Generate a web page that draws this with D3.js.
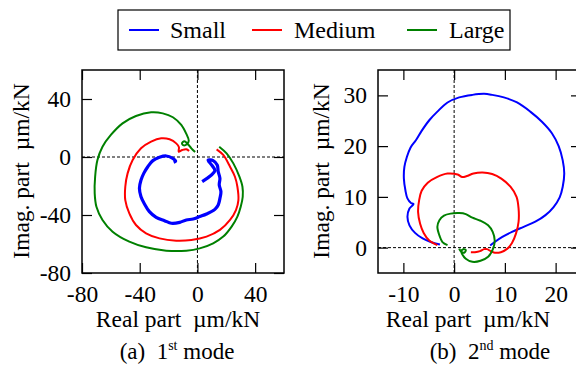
<!DOCTYPE html>
<html lang="en">
<head>
<meta charset="utf-8">
<script src="https://cdn.jsdelivr.net/npm/d3@7"></script>
<style type="text/css">
body { margin: 0; background: #fff; }
.tick line { stroke: #000; stroke-width: 1.2; }
</style>
</head>
<body>
<script type="text/javascript">

var serif = "'Liberation Serif', 'Times New Roman', Times, serif";

// series names and colours
var seriesNames = ["Small", "Medium", "Large"];
var seriesColors = ["#0000ff", "#ff0000", "#008000"];

// 1st mode, [real, imag] in um/kN
var mode1Small = [[3.3,-17.0],[12.1,-9.4],[9.8,-5.5],[7.4,-2.1],[10.9,-2.5],[13.7,-5.5],[14.4,-10.1],
  [15.6,-14.7],[15.1,-19.3],[16.3,-23.9],[15.6,-28.5],[14.4,-33.1],[12.1,-36.1],
  [6.3,-39.3],[1.6,-41.1],[-3.0,-42.8],[-7.7,-43.4],[-12.3,-45.1],[-18.1,-45.7],[-22.8,-43.9],[-28.6,-41.6],
  [-33.3,-37.7],[-36.7,-32.4],[-39.1,-27.4],[-40.2,-21.6],[-39.1,-15.9],[-37.2,-11.3],[-34.4,-6.7],
  [-30.9,-2.5],[-26.3,-0.2],[-21.6,0.7],[-17.4,-0.7],[-15.1,-2.8],[-16.5,-3.7]];
var mode1Medium = [[13.3,5.3],[17.9,1.4],[22.6,-6.7],[26.0,-13.6],[27.7,-20.5],[28.4,-29.7],[26.7,-36.6],
  [22.6,-43.4],[15.6,-50.3],[6.3,-54.9],[-4.2,-57.2],[-14.7,-57.7],[-26.3,-56.1],[-35.6,-52.6],[-42.6,-46.9],
  [-47.2,-38.9],[-50.0,-29.7],[-50.0,-20.5],[-48.4,-11.3],[-44.9,-2.1],[-39.1,6.0],[-32.1,10.6],[-25.1,12.9],
  [-19.3,12.2],[-14.7,9.4],[-12.8,6.7],[-13.0,3.7],[-10.5,4.8],[-7.7,5.3],[-5.8,4.1]];
var mode1Large = [[15.1,7.1],[20.2,2.5],[24.9,-4.4],[29.1,-13.6],[31.2,-20.5],[31.4,-27.4],[30.0,-34.3],
  [27.7,-41.1],[23.7,-48.0],[17.9,-54.9],[10.9,-59.5],[1.6,-63.0],[-7.7,-64.6],[-21.6,-64.6],[-35.6,-62.3],
  [-47.2,-58.4],[-58.8,-51.5],[-65.8,-43.4],[-70.0,-34.3],[-71.2,-25.1],[-70.9,-13.6],[-69.3,-2.1],
  [-65.8,7.1],[-60.0,15.2],[-51.9,23.2],[-42.6,28.3],[-32.1,30.8],[-24.0,30.1],[-17.0,27.4],[-11.2,22.1],
  [-7.7,15.9],[-6.0,11.3],[-7.2,9.0],[-9.5,8.0],[-10.7,9.4],[-9.1,10.8],[-6.7,9.0],[-4.2,6.0],[-1.6,3.4]];

// 2nd mode, [real, imag] in um/kN
var mode2Small = [[-2.8,0.6],[-4.6,1.1],[-6.2,1.8],[-7.7,2.9],[-8.8,4.4],[-9.2,6.1],[-8.8,7.7],[-8.0,8.6],
  [-8.5,8.8],[-9.2,9.7],[-9.6,11.3],[-9.9,13.6],[-9.8,15.9],[-9.3,17.9],[-8.6,19.7],[-7.5,21.2],[-6.4,23.0],
  [-4.9,25.1],[-3.3,26.8],[-1.3,28.6],[1.0,29.6],[3.6,30.1],[5.9,30.3],[7.5,30.1],[9.8,29.6],[12.4,28.6],
  [15.0,26.8],[17.3,24.8],[19.3,22.5],[20.6,20.0],[21.4,17.2],[21.7,14.6],[21.4,12.0],[20.8,9.9],[19.6,8.0],
  [18.0,6.4],[16.0,5.1],[13.7,4.1],[11.4,3.1],[9.5,2.1],[8.0,1.1],[7.1,0.4]];
var mode2Medium = [[-3.3,0.5],[-4.9,1.4],[-6.0,2.9],[-6.7,4.7],[-7.1,7.0],[-6.9,9.3],[-6.4,11.2],[-5.2,12.8],
  [-3.4,13.9],[-1.3,14.6],[0.7,14.4],[1.6,13.9],[2.5,14.1],[3.8,14.6],[5.6,14.8],[7.5,14.5],[9.3,13.6],
  [11.1,12.0],[12.3,10.0],[12.7,7.7],[12.7,5.1],[12.2,2.8],[11.4,0.9],[10.5,-0.2],[9.2,-0.9],[8.0,-1.0],
  [7.2,-0.7],[6.5,-0.3],[5.9,-0.3],[5.1,-0.7],[4.1,-0.9],[3.3,-0.9]];
var mode2Large = [[-1.3,0.5],[-2.3,1.1],[-2.9,2.4],[-3.3,4.1],[-2.9,5.4],[-2.0,6.3],[-0.7,6.7],[1.0,6.8],
  [2.3,6.6],[3.6,5.9],[5.2,5.3],[6.7,4.4],[7.6,3.1],[8.0,1.4],[7.6,-0.4],[6.7,-1.8],[5.2,-2.6],[3.6,-2.8],
  [2.3,-2.2],[1.6,-1.3],[1.4,-0.7],[1.8,-0.3],[2.3,-0.5],[2.0,-1.0],[1.3,-0.7],[1.0,-0.2]];

// axis ticks
var mode1Ticks = [-80, -40, 0, 40];
var mode2XTicks = [-10, 0, 10, 20];
var mode2YTicks = [0, 10, 20, 30];

var width = 576, height = 367;

var svg = d3.select("body").append("svg")
  .attr("width", width)
  .attr("height", height);

var fmt = function(d) { return d < 0 ? "-" + Math.abs(d) : "" + d; };
var noLabel = function() { return ""; };

function styleAxis(a) {
  a.select(".domain").remove();
  a.selectAll(".tick text")
    .style("font-family", serif)
    .style("font-size", "23.5px");
}

function drawPanel(opt) {
  var x = d3.scaleLinear().domain(opt.xDomain).range([opt.left, opt.left + opt.w]);
  var y = d3.scaleLinear().domain(opt.yDomain).range([opt.top + opt.h, opt.top]);
  var g = svg.append("g");
  var tl = 10;

  g.append("clipPath").attr("id", opt.id)
    .append("rect")
    .attr("x", opt.left).attr("y", opt.top)
    .attr("width", opt.w).attr("height", opt.h);

  // zero lines
  g.append("line")
    .attr("x1", x(0)).attr("x2", x(0))
    .attr("y1", opt.top).attr("y2", opt.top + opt.h)
    .style("stroke", "#000").style("stroke-width", 1).style("stroke-dasharray", "3,2");
  g.append("line")
    .attr("x1", opt.left).attr("x2", opt.left + opt.w)
    .attr("y1", y(0)).attr("y2", y(0))
    .style("stroke", "#000").style("stroke-width", 1).style("stroke-dasharray", "3,2");

  // axes, ticks pointing inward on all four sides
  g.append("g").attr("transform", "translate(0," + (opt.top + opt.h) + ")")
    .call(d3.axisBottom(x).tickValues(opt.xTicks).tickSize(-tl).tickPadding(12).tickFormat(fmt))
    .call(styleAxis);
  g.append("g").attr("transform", "translate(0," + opt.top + ")")
    .call(d3.axisTop(x).tickValues(opt.xTicks).tickSize(-tl).tickFormat(noLabel))
    .call(styleAxis);
  g.append("g").attr("transform", "translate(" + opt.left + ",0)")
    .call(d3.axisLeft(y).tickValues(opt.yTicks).tickSize(-tl).tickPadding(11).tickFormat(fmt))
    .call(styleAxis);
  g.append("g").attr("transform", "translate(" + (opt.left + opt.w) + ",0)")
    .call(d3.axisRight(y).tickValues(opt.yTicks).tickSize(-tl).tickFormat(noLabel))
    .call(styleAxis);

  var line = d3.line()
    .x(function(d) { return x(d[0]); })
    .y(function(d) { return y(d[1]); })
    .curve(d3.curveCatmullRom.alpha(0.5));

  g.append("g").attr("clip-path", "url(#" + opt.id + ")")
    .selectAll("path")
    .data(opt.series)
    .enter()
    .append("path")
    .attr("d", line)
    .style("fill", "none")
    .style("stroke", function(d, i) { return seriesColors[i]; })
    .style("stroke-width", function(d, i) { return i == 0 && opt.id == "c1" ? 3.2 : 2; })
    .style("stroke-linejoin", "round");

  // frame
  g.append("rect")
    .attr("x", opt.left).attr("y", opt.top)
    .attr("width", opt.w).attr("height", opt.h)
    .style("fill", "none").style("stroke", "#000").style("stroke-width", 1.5);

  // axis titles
  g.append("text")
    .attr("x", opt.xLabelX).attr("y", 327)
    .attr("text-anchor", "middle")
    .style("font-family", serif).style("font-size", "23.5px").style("white-space", "pre")
    .text("Real part  \u00b5m/kN");
  g.append("text")
    .attr("transform", "translate(" + opt.yLabelX + ",171) rotate(-90)")
    .attr("text-anchor", "middle")
    .style("font-family", serif).style("font-size", "23.5px").style("white-space", "pre")
    .text("Imag. part  \u00b5m/kN");

  // caption
  var cap = g.append("text")
    .attr("x", opt.capX).attr("y", 359)
    .attr("text-anchor", "middle")
    .style("font-family", serif).style("font-size", "23px").style("white-space", "pre");
  cap.append("tspan").text(opt.capA + "  " + opt.capN);
  cap.append("tspan").attr("dy", -9).style("font-size", "14px").text(opt.capSup);
  cap.append("tspan").attr("dy", 9).text(" mode");
}

drawPanel({
  id: "c1", left: 82, top: 70, w: 202, h: 203,
  xDomain: [-80, 60], yDomain: [-80, 60],
  xTicks: mode1Ticks, yTicks: mode1Ticks,
  series: [mode1Small, mode1Medium, mode1Large],
  xLabelX: 178, yLabelX: 29, capX: 177,
  capA: "(a)", capN: "1", capSup: "st"
});

drawPanel({
  id: "c2", left: 378, top: 70, w: 203, h: 203,
  xDomain: [-15, 25], yDomain: [-5, 35],
  xTicks: mode2XTicks, yTicks: mode2YTicks,
  series: [mode2Small, mode2Medium, mode2Large],
  xLabelX: 468, yLabelX: 329, capX: 490,
  capA: "(b)", capN: "2", capSup: "nd"
});

// legend
svg.append("rect")
  .attr("x", 118).attr("y", 10)
  .attr("width", 392).attr("height", 40)
  .style("fill", "#fff").style("stroke", "#000").style("stroke-width", 1.2);

var legendX = [129, 252, 407];
var legend = svg.selectAll("g.legend")
  .data(seriesNames)
  .enter()
  .append("g")
  .attr("class", "legend")
  .attr("transform", function(d, i) { return "translate(" + legendX[i] + ",30)"; });

legend.append("line")
  .attr("x1", 0).attr("x2", 30)
  .style("stroke", function(d, i) { return seriesColors[i]; })
  .style("stroke-width", 2);

legend.append("text")
  .attr("x", function(d, i) { return i == 0 ? 41 : 42; })
  .attr("y", 8)
  .style("font-family", serif)
  .style("font-size", "24px")
  .text(function(d) { return d; });

</script>
</body>
</html>
